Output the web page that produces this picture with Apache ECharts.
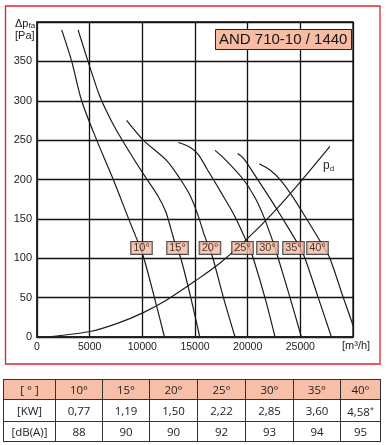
<!DOCTYPE html>
<html>
<head>
<meta charset="utf-8">
<script src="https://cdn.jsdelivr.net/npm/echarts@6/dist/echarts.min.js"></script>
<style>
html,body{margin:0;padding:0;background:#fff;}
#chart{position:absolute;left:0;top:0;width:386px;height:445px;}
#tbl{position:absolute;left:3px;top:379px;border-collapse:collapse;font-family:"Open Sans","Noto Sans",sans-serif;font-size:11.5px;color:#222;z-index:2;}
#tbl td{border:1px solid #333;text-align:center;padding:0;height:19px;line-height:19px;}
#tbl tr.h td{background:#f8bfa8;}
#tbl sup{font-size:7px;vertical-align:4px;}
</style>
</head>
<body>
<div id="chart"></div>
<table id="tbl"></table>
<script>
// ---- data ----
const xTicks = [0, 5000, 10000, 15000, 20000, 25000];
const yTicks = [0, 50, 100, 150, 200, 250, 300, 350];
const angleNames = ['10°', '15°', '20°', '25°', '30°', '35°', '40°'];

const curve10 = [[2345,390],[3294,350],[4240,300],[5667,250],[7240,200],[8700,150],[9780,114],[10150,100],[11150,50],[12100,0]];
const curve15 = [[3900,390],[4966,345],[5982,305],[7000,276],[8000,252],[9100,228],[10300,203],[11400,181],[12200,160],[12700,138],[13150,117],[13650,100],[14600,50],[15450,0]];
const curve20 = [[8510,275],[10090,250],[12310,224],[13575,201],[14525,180],[15250,156],[15850,131],[16350,113],[16700,100],[17700,50],[18800,0]];
const curve25 = [[13417,247],[14525,241],[15300,232],[16110,214],[17060,193],[17850,175],[18550,159],[19150,143],[19700,127],[20150,113],[20530,100],[21640,50],[22600,0]];
const curve30 = [[16900,237],[17900,225],[19590,200],[20650,178],[21400,157],[22000,136],[22500,117],[22900,100],[24020,50],[25100,0]];
const curve35 = [[19050,233],[19590,227],[20850,202],[22120,176],[23200,153],[24200,131],[24950,114],[25440,100],[26700,50],[27950,0]];
const curve40 = [[21100,220],[22120,212],[23200,198],[24330,177],[25500,152],[26600,128],[27300,112],[27810,100],[29080,50],[30000,15]];
const curvePd = [[920,0],[5030,7],[7570,17],[10090,31],[12310,47],[15000,71],[17380,94],[19750,122],[22430,158],[25130,199],[27810,242]];

const labelX = [9920, 13340, 16420, 19510, 21880, 24350, 26630];
const labelY = 113;

const titleText = 'AND 710-10 / 1440';
const tableHead = ['[ ° ]', '10°', '15°', '20°', '25°', '30°', '35°', '40°'];
const powerRow = ['[KW]', '0,77', '1,19', '1,50', '2,22', '2,85', '3,60', '4,58*'];
const noiseRow = ['[dB(A)]', '88', '90', '90', '92', '93', '94', '95'];

// ---- table ----
const colW = [52, 47, 47, 48, 48, 48, 47, 40];
function row(cells, cls) {
  return '<tr' + (cls ? ' class="' + cls + '"' : '') + '>' + cells.map((c, i) => {
    const t = c.endsWith('*') ? c.slice(0, -1) + '<sup>*</sup>' : c;
    return '<td style="width:' + (colW[i] - 1) + 'px">' + t + '</td>';
  }).join('') + '</tr>';
}
document.getElementById('tbl').innerHTML = row(tableHead, 'h') + row(powerRow) + row(noiseRow);

// ---- chart ----
const chart = echarts.init(document.getElementById('chart'), null, {renderer: 'canvas'});
const FONT = '"Liberation Sans", Arial, sans-serif';
const lineCol = '#1c1c1c';
function curveSeries(d) {
  return {type: 'line', data: d, smooth: 0.3, symbol: 'none', silent: true,
    lineStyle: {color: lineCol, width: 1.2}, z: 3};
}
chart.setOption({
  backgroundColor: '#fff',
  animation: false,
  grid: {left: 37, top: 22, right: 33, bottom: 108, show: true, borderColor: '#111', borderWidth: 1.3, backgroundColor: 'transparent'},
  xAxis: {
    type: 'value', min: 0, max: 30000, interval: 5000,
    axisLine: {show: true, lineStyle: {color: '#222', width: 2}},
    axisTick: {show: false},
    splitLine: {show: true, lineStyle: {color: '#111', width: 1.3}},
    axisLabel: {color: '#222', fontFamily: FONT, fontSize: 10.5, margin: 5,
      formatter: v => xTicks.indexOf(v) >= 0 ? String(v) : ''}
  },
  yAxis: {
    type: 'value', min: 0, max: 400, interval: 50,
    axisLine: {show: true, lineStyle: {color: '#222', width: 1.5}},
    axisTick: {show: false},
    splitLine: {show: true, lineStyle: {color: '#111', width: 1.3}},
    axisLabel: {color: '#222', fontFamily: FONT, fontSize: 11, margin: 5,
      formatter: v => yTicks.indexOf(v) >= 0 ? String(v) : ''}
  },
  title: {
    text: titleText, left: 215, top: 29,
    backgroundColor: '#f8bca4', borderColor: '#222', borderWidth: 1, padding: [3, 4, 3, 4],
    textStyle: {fontFamily: FONT, fontSize: 15, fontWeight: 'normal', color: '#151515', lineHeight: 15}
  },
  series: [
    curveSeries(curve10), curveSeries(curve15), curveSeries(curve20), curveSeries(curve25),
    curveSeries(curve30), curveSeries(curve35), curveSeries(curve40), curveSeries(curvePd),
    {
      type: 'scatter', silent: true, symbolSize: 1, itemStyle: {color: 'rgba(0,0,0,0)'}, z: 5,
      data: labelX.map(x => [x, labelY]),
      label: {
        show: true, position: 'inside',
        formatter: p => angleNames[p.dataIndex],
        fontFamily: FONT, fontSize: 11, color: '#151515',
        backgroundColor: '#f8b9a0', borderColor: '#222', borderWidth: 1,
        padding: [1, 2, 0, 2], lineHeight: 11
      }
    }
  ],
  graphic: [
    {type: 'rect', silent: true, z: 0, shape: {x: 5.5, y: 6, width: 374.5, height: 358},
      style: {fill: 'none', stroke: '#e3262b', lineWidth: 1.3}},
    {type: 'text', silent: true, left: 15, top: 18, z: 10,
      style: {text: '{a|Δp}{b|fa}', rich: {a: {fontFamily: FONT, fontSize: 11, fill: '#222'}, b: {fontFamily: FONT, fontSize: 8, fill: '#222', padding: [5, 0, 0, 0]}}}},
    {type: 'text', silent: true, left: 15, top: 30, z: 10,
      style: {text: '[Pa]', font: '11px ' + FONT, fill: '#222'}},
    {type: 'text', silent: true, left: 342, top: 340, z: 10,
      style: {text: '[m³/h]', font: '11px ' + FONT, fill: '#222'}},
    {type: 'text', silent: true, left: 323, top: 160, z: 10,
      style: {text: '{a|p}{b|d}', rich: {a: {fontFamily: FONT, fontSize: 12, fill: '#222'}, b: {fontFamily: FONT, fontSize: 8, fill: '#222', padding: [5, 0, 0, 0]}}}}
  ]
});
</script>
</body>
</html>
